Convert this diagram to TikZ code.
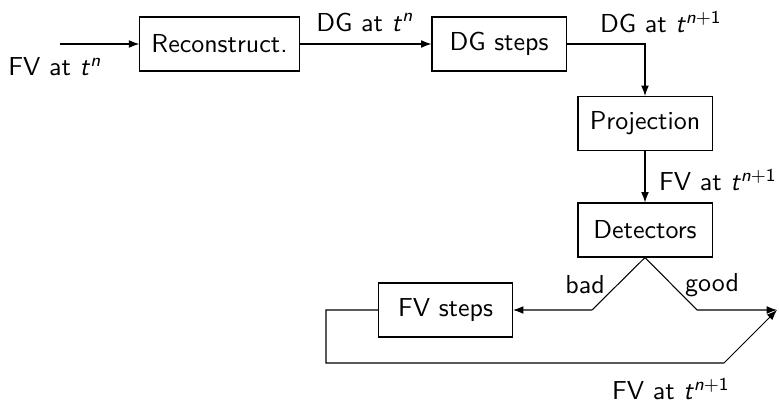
\documentclass[tikz,border=0pt]{standalone}
\usepackage{fontspec}
\usepackage{tikz}
\usetikzlibrary{arrows.meta, positioning}
\renewcommand{\familydefault}{\sfdefault}
\newcommand{\tpow}[1]{\textit{t}\textsuperscript{#1}}

\begin{document}
\begin{tikzpicture}[x=0.385pt, y=-0.385pt, font=\sffamily,
    blk/.style={draw, minimum width=51.6pt, minimum height=20.8pt, inner xsep=4.5pt},
    >={Latex[length=4pt, width=3pt]}]
    \useasboundingbox (0,0) rectangle (779,400);

    % blocks
    \node[blk] (rec)  at (219.5,44)  {Reconstruct.};
    \node[blk] (dgs)  at (499,44)    {DG steps};
    \node[blk] (proj) at (645,123.5) {Projection};
    \node[blk] (det)  at (645,230)   {Detectors};
    \node[blk] (fvs)  at (445.5,310) {FV steps};

    % corners
    \coordinate (in)   at (60,44);
    \coordinate (turn) at (645,44);
    \coordinate (bad)  at (592,310);
    \coordinate (good) at (697,310);
    \coordinate (out)  at (777,310);
    \coordinate (l1)   at (326,310);
    \coordinate (l2)   at (326,363);
    \coordinate (l3)   at (724,363);

    % connectors
    \draw[->] (in) -- (rec);
    \draw[->] (rec) -- (dgs);
    \draw[->] (dgs.east) -- (turn) -- (proj.north);
    \draw[->] (proj) -- (det);
    \draw[->] (det.south) -- (bad) -- (fvs.east);
    \draw[->] (det.south) -- (good) -- (out);
    \draw[->] (fvs.west) -- (l1) -- (l2) -- (l3) -- (out);

    % labels
    \node (lfvn)  at (55,67)   {FV at \tpow{\textit{n}}};
    \node (ldgn)  at (365,22)  {DG at \tpow{\textit{n}}};
    \node (ldgn1) at (661,22)  {DG at \tpow{\textit{n}+1}};
    \node (lfv1)  at (718,180) {FV at \tpow{\textit{n}+1}};
    \node (lbad)  at (585,285) {bad};
    \node (lgood) at (712,285) {good};
    \node (lfv2)  at (671,389) {FV at \tpow{\textit{n}+1}};
\end{tikzpicture}
\end{document}
